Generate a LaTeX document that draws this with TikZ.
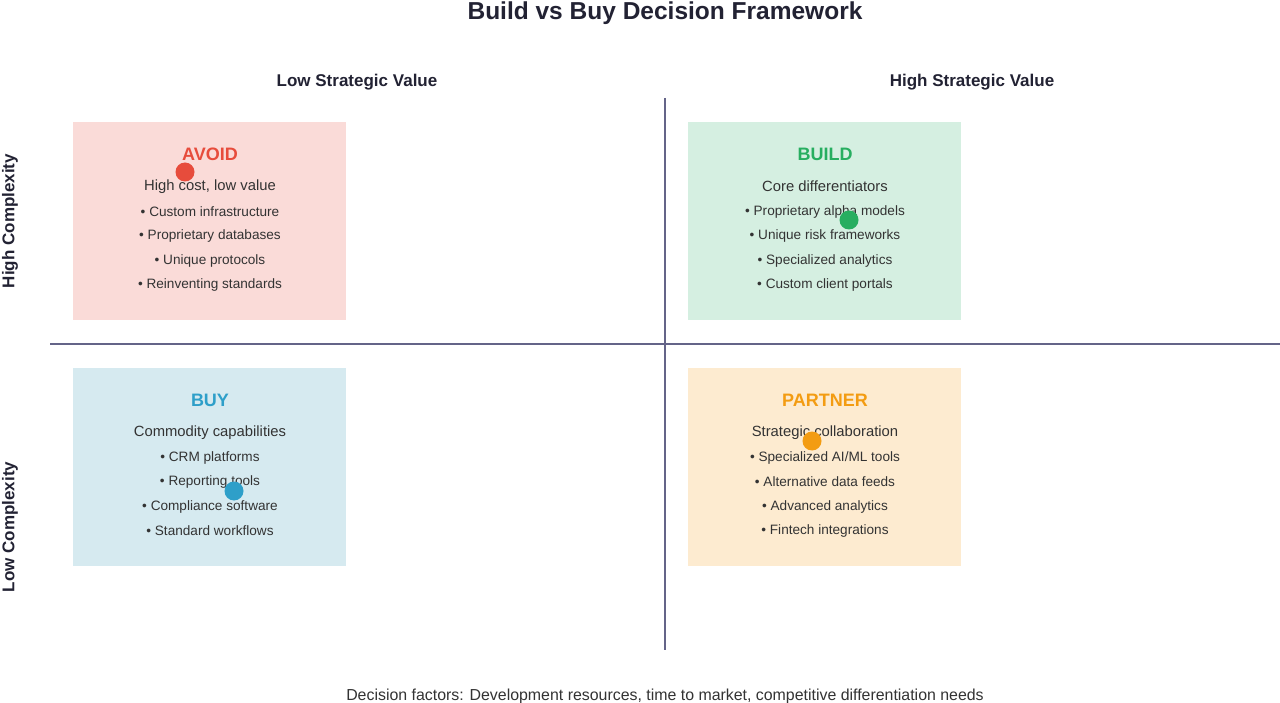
\documentclass[tikz,border=0pt]{standalone}
\usepackage{fontspec}
\setmainfont{Liberation Sans}
\definecolor{txt}{HTML}{333333}
\definecolor{ttl}{HTML}{222233}
\definecolor{axis}{HTML}{646488}
\definecolor{avoidfill}{HTML}{FADBD8}
\definecolor{buildfill}{HTML}{D5EFE1}
\definecolor{buyfill}{HTML}{D6EAF0}
\definecolor{partnerfill}{HTML}{FDEBD0}
\definecolor{avoidc}{HTML}{E74C3C}
\definecolor{buildc}{HTML}{27AE60}
\definecolor{buyc}{HTML}{2E9FC9}
\definecolor{partnerc}{HTML}{F39C12}
\tikzset{
  quad/.style={minimum width=273pt, minimum height=198pt, inner sep=0pt, draw=none},
  qtitle/.style={font=\fontsize{18}{20}\selectfont\bfseries, anchor=center},
  qsub/.style={font=\fontsize{14.8}{17}\selectfont, text=txt, anchor=center},
  qitem/.style={font=\fontsize{13.6}{15}\selectfont, text=txt, anchor=center},
  axlabel/.style={font=\fontsize{17}{19}\selectfont\bfseries, text=ttl, anchor=center},
  dot/.style={circle, minimum size=19pt, inner sep=0pt, draw=none},
  axline/.style={draw=axis, line width=2pt}
}
\begin{document}
\begin{tikzpicture}[x=1pt,y=-1pt]
\useasboundingbox[fill=white] (0,0) rectangle (1280,703);
\node[font=\fontsize{24.5}{26}\selectfont\bfseries, text=ttl] (title) at (665,13) {Build vs Buy Decision Framework};
\node[axlabel] (lsv) at (357,82) {Low Strategic Value};
\node[axlabel] (hsv) at (972,82) {High Strategic Value};
\node[axlabel, rotate=90] (hc) at (10,221) {High Complexity};
\node[axlabel, rotate=90] (lc) at (10,527) {Low Complexity};
% axes
\coordinate (vt) at (665,98);
\coordinate (vb) at (665,650);
\coordinate (hl) at (50,344);
\coordinate (hr) at (1280,344);
\draw[axline] (vt) -- (vb);
\draw[axline] (hl) -- (hr);
% boxes
\node[quad, fill=avoidfill] (avoid) at (209.5,221) {};
\node[quad, fill=buildfill] (build) at (824.5,221) {};
\node[quad, fill=buyfill] (buy) at (209.5,467) {};
\node[quad, fill=partnerfill] (partner) at (824.5,467) {};
% AVOID
\node[qtitle, text=avoidc] (avoidt) at (210,154) {AVOID};
\node[qsub] (avoids) at (210,186.5) {High cost, low value};
\node[qitem] (a1) at (210,211.5) {• Custom infrastructure};
\node[qitem] (a2) at (210,236) {• Proprietary databases};
\node[qitem] (a3) at (210,260.5) {• Unique protocols};
\node[qitem] (a4) at (210,285) {• Reinventing standards};
% BUILD
\node[qtitle, text=buildc] (buildt) at (825,154) {BUILD};
\node[qsub] (builds) at (825,186.5) {Core differentiators};
\node[qitem] (b1) at (825,211.5) {• Proprietary alpha models};
\node[qitem] (b2) at (825,236) {• Unique risk frameworks};
\node[qitem] (b3) at (825,260.5) {• Specialized analytics};
\node[qitem] (b4) at (825,285) {• Custom client portals};
% BUY
\node[qtitle, text=buyc] (buyt) at (210,400) {BUY};
\node[qsub] (buys) at (210,432.5) {Commodity capabilities};
\node[qitem] (c1) at (210,457.5) {• CRM platforms};
\node[qitem] (c2) at (210,482) {• Reporting tools};
\node[qitem] (c3) at (210,506.5) {• Compliance software};
\node[qitem] (c4) at (210,531) {• Standard workflows};
% PARTNER
\node[qtitle, text=partnerc] (partnert) at (825,400) {PARTNER};
\node[qsub] (partners) at (825,432.5) {Strategic collaboration};
\node[qitem] (p1) at (825,457.5) {• Specialized AI/ML tools};
\node[qitem] (p2) at (825,482) {• Alternative data feeds};
\node[qitem] (p3) at (825,506.5) {• Advanced analytics};
\node[qitem] (p4) at (825,531) {• Fintech integrations};
% dots
\node[dot, fill=avoidc] (da) at (185,172) {};
\node[dot, fill=buildc] (db) at (849,220) {};
\node[dot, fill=buyc] (dc) at (234,491) {};
\node[dot, fill=partnerc] (dp) at (812,441) {};
% footer
\node[font=\fontsize{15.9}{18}\selectfont, text=txt] (foot) at (665,696) {Decision factors: Development resources, time to market, competitive differentiation needs};
\end{tikzpicture}
\end{document}
